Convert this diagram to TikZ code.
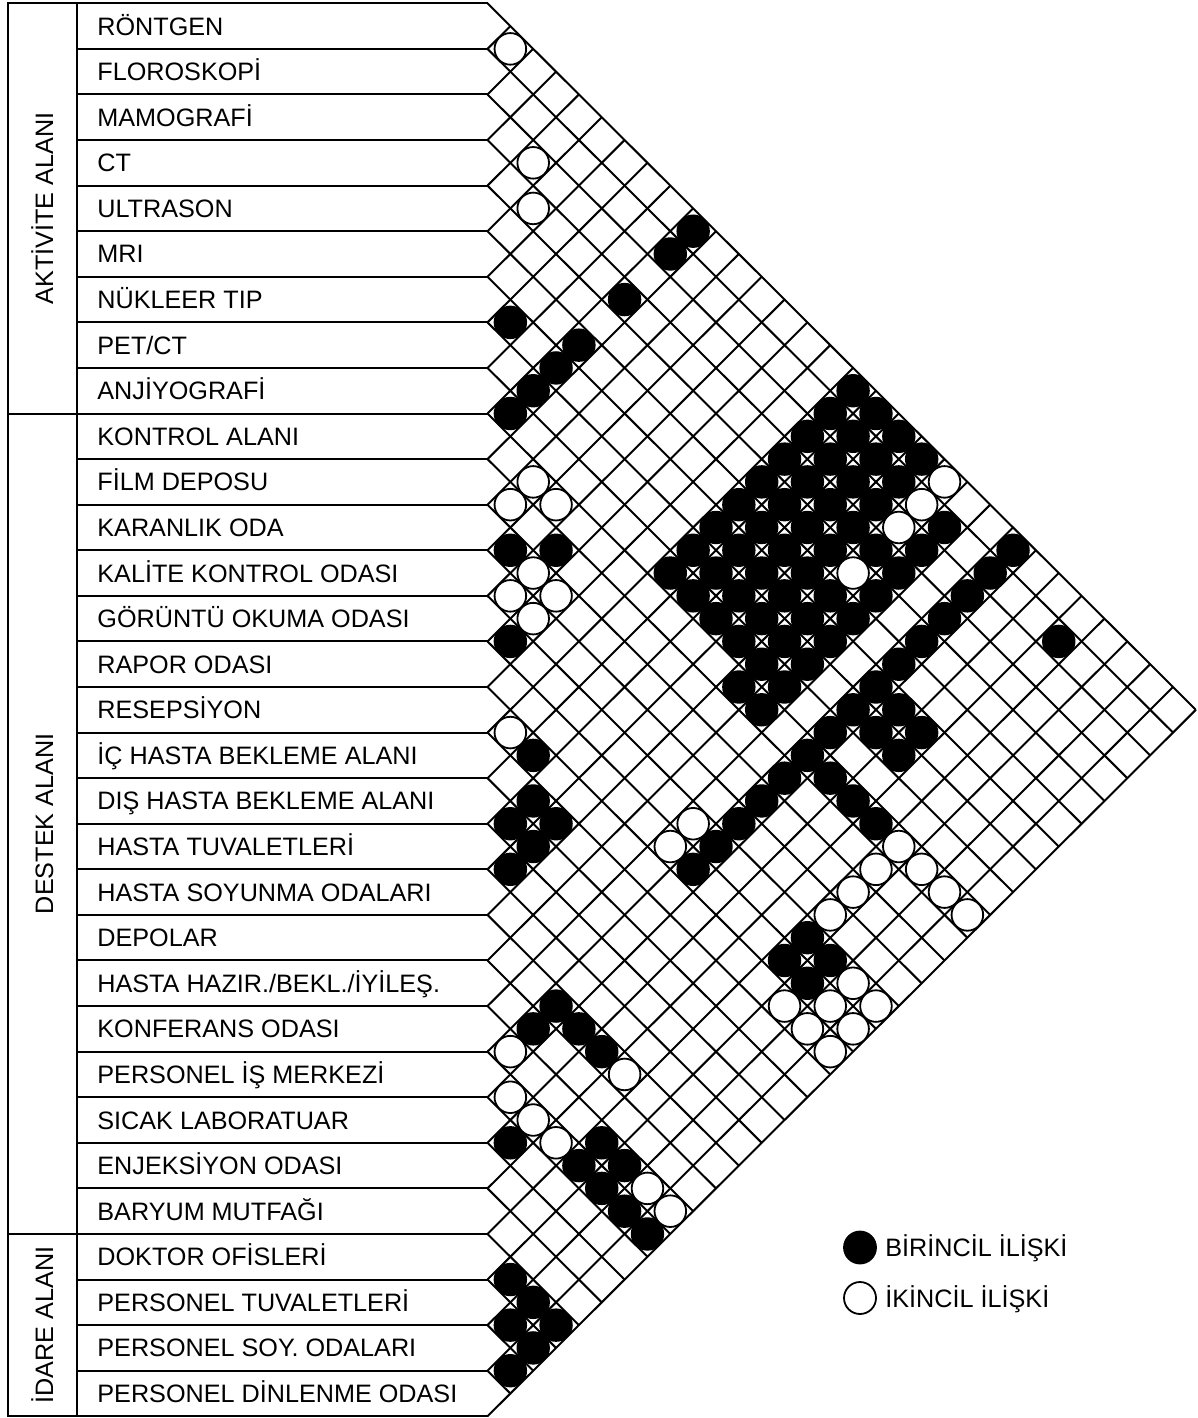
\documentclass[tikz,border=0pt]{standalone}
\usepackage{fontspec}
\setmainfont{Liberation Sans}
\usetikzlibrary{positioning}

\begin{document}
\begin{tikzpicture}[x=0.5pt, y=-0.5pt,
		grid/.style={line width=1pt},
		frame/.style={line width=1pt},
		rowlabel/.style={anchor=base west, inner sep=0pt, font=\fontsize{12.6}{15}\selectfont},
		grouplabel/.style={anchor=base, rotate=90, inner sep=0pt, font=\fontsize{12.6}{15}\selectfont},
		prim/.style={circle, draw, fill=black, line width=0.9pt, minimum size=15.8pt, inner sep=0pt},
		sec/.style={prim, fill=white},
		]
		\def\xo{487.5} \def\yo{3.3} \def\hx{22.85} \def\hy{22.79}
		\useasboundingbox (0,0) rectangle (1198,1418);
		
		% Matrix grid
		\foreach \k in {0,...,31} {
			\draw[grid] (\xo,{\yo+2*\k*\hy}) -- ({\xo+(31-\k)*\hx},{\yo+(\k+31)*\hy});
			\draw[grid] (\xo,{\yo+2*\k*\hy}) -- ({\xo+\k*\hx},{\yo+\k*\hy});
		}
		
		% Frame and groups
		\draw[frame] (\xo,\yo) -- (8,\yo) -- (8,{\yo+62*\hy}) -- (\xo,{\yo+62*\hy});
		\draw[frame] (77,\yo) -- (77,{\yo+62*\hy});
		\draw[frame] (8,{\yo+18*\hy}) -- (77,{\yo+18*\hy});
		\draw[frame] (8,{\yo+54*\hy}) -- (77,{\yo+54*\hy});
		\node[grouplabel] (gakt) at (53,{\yo+9*\hy}) {AKTİVİTE ALANI};
		\node[grouplabel] (gdes) at (53,{\yo+36*\hy}) {DESTEK ALANI};
		\node[grouplabel] (gida) at (53,{\yo+58*\hy}) {İDARE ALANI};
		
		% Rows
		\foreach \lbl [count=\k from 0] in {RÖNTGEN, FLOROSKOPİ, MAMOGRAFİ, CT, ULTRASON, MRI,
			NÜKLEER TIP, {PET/CT}, ANJİYOGRAFİ, KONTROL ALANI, FİLM DEPOSU, KARANLIK ODA,
			KALİTE KONTROL ODASI, GÖRÜNTÜ OKUMA ODASI, RAPOR ODASI, RESEPSİYON,
			İÇ HASTA BEKLEME ALANI, DIŞ HASTA BEKLEME ALANI, HASTA TUVALETLERİ,
			HASTA SOYUNMA ODALARI, DEPOLAR, {HASTA HAZIR./BEKL./İYİLEŞ.}, KONFERANS ODASI,
			PERSONEL İŞ MERKEZİ, SICAK LABORATUAR, ENJEKSİYON ODASI, BARYUM MUTFAĞI,
			DOKTOR OFİSLERİ, PERSONEL TUVALETLERİ, PERSONEL SOY. ODALARI,
			PERSONEL DİNLENME ODASI} {
			\node[rowlabel] (r\k) at (97,{\yo+(2*\k+1)*\hy+9}) {\lbl};
			\draw[frame] (77,{\yo+2*(\k+1)*\hy}) -- (\xo,{\yo+2*(\k+1)*\hy});
		}
		
		% Relations
		\def\primlist{0/9,1/9,3/9,5/9,6/9,7/9,8/9,6/7,11/12,10/13,13/14,
			15/17,16/18,17/18,16/19,17/19,18/19,3/20,5/20,6/20,7/20,8/20,9/20,
			1/21,2/21,3/21,4/21,5/21,6/21,7/21,8/21,9/21,20/23,21/23,
			6/24,7/24,6/25,7/25,9/24,9/25,9/26,1/26,13/27,14/27,13/28,14/28,
			20/24,20/25,24/25,22/27,22/28,23/27,23/28,23/29,23/30,
			27/28,27/29,28/29,27/30,28/30,29/30}
		\def\seclist{0/1,2/4,3/5,9/11,10/11,9/12,11/13,12/13,11/14,12/14,15/16,
			0/20,1/20,2/20,4/20,13/22,14/22,9/27,9/28,9/29,9/30,10/27,11/27,12/27,
			13/29,13/30,14/29,14/30,15/28,15/29,15/30,
			22/23,23/24,23/25,23/26,20/26,22/29,22/30}
		\foreach \i in {0,...,8} \foreach \j in {16,...,19}
			\node[prim] (c\i-\j) at ({\xo+(\j-\i)*\hx},{\yo+(\i+\j+1)*\hy}) {};
		\foreach \i in {0,...,14}
			\node[prim] (c\i-23) at ({\xo+(23-\i)*\hx},{\yo+(\i+24)*\hy}) {};
		\foreach \i/\j in \primlist
			\node[prim] (c\i-\j) at ({\xo+(\j-\i)*\hx},{\yo+(\i+\j+1)*\hy}) {};
		\foreach \i/\j in \seclist
			\node[sec] (c\i-\j) at ({\xo+(\j-\i)*\hx},{\yo+(\i+\j+1)*\hy}) {};
		
		% Legend
		\node[prim, minimum size=16pt] (kprim) at (860,1247.5) {};
		\node[rowlabel] (tprim) at (885,1256.5) {BİRİNCİL İLİŞKİ};
		\node[sec, minimum size=16pt] (ksec) at (860,1298) {};
		\node[rowlabel] (tsec) at (885,1307) {İKİNCİL İLİŞKİ};
	\end{tikzpicture}
\end{document}
